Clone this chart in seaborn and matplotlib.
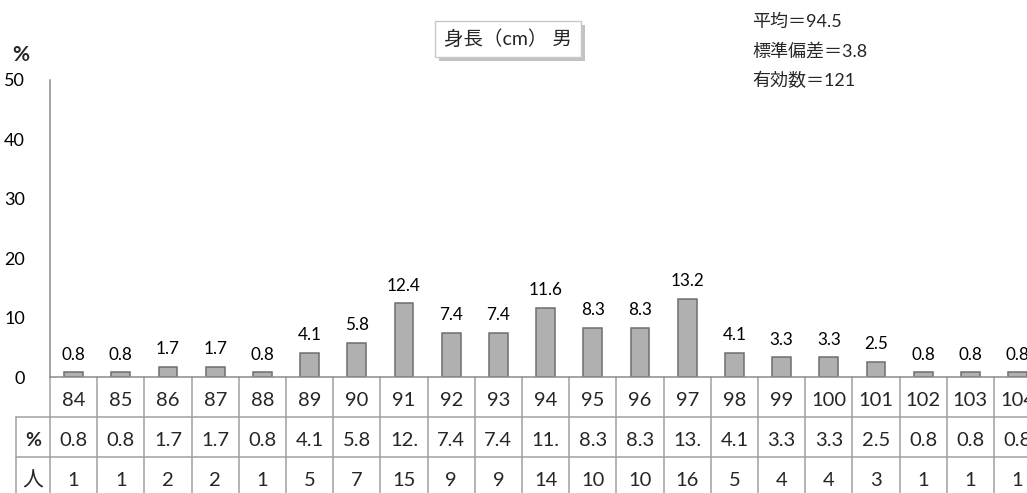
import matplotlib
matplotlib.use("Agg")
import matplotlib.pyplot as plt
import matplotlib.patheffects as pe
import seaborn as sns
import pandas as pd

# Height distribution (cm) of boys
heights = [84, 85, 86, 87, 88, 89, 90, 91, 92, 93, 94, 95, 96, 97, 98, 99, 100, 101, 102, 103, 104]
percent = [0.8, 0.8, 1.7, 1.7, 0.8, 4.1, 5.8, 12.4, 7.4, 7.4, 11.6, 8.3, 8.3, 13.2, 4.1,
           3.3, 3.3, 2.5, 0.8, 0.8, 0.8]
counts = [1, 1, 2, 2, 1, 5, 7, 15, 9, 9, 14, 10, 10, 16, 5, 4, 4, 3, 1, 1, 1]
y_ticks = [0, 10, 20, 30, 40, 50]
title = "身長（cm） 男"
stats_lines = ["平均＝94.5", "標準偏差＝3.8", "有効数＝121"]

sns.set_style("white")
plt.rcParams["font.family"] = ["Lato", "Noto Sans CJK JP", "DejaVu Sans"]

df = pd.DataFrame({"height": [str(h) for h in heights], "percent": percent})

W, H = 1027, 493
fig = plt.figure(figsize=(W / 100, H / 100), dpi=100)
# axes: left edge x=50px, zero line y=377px, top y=80px; right edge runs past the figure
ax = fig.add_axes([50 / W, (H - 377) / H, 991.2 / W, 297 / H])

grid_c = "#a0a0a0"
sns.barplot(data=df, x="height", y="percent", color="#b0b0b0", width=0.4,
            edgecolor="#6e6e6e", linewidth=1.1, saturation=1, ax=ax)
ax.bar_label(ax.containers[0], fmt="%.1f", padding=7, fontsize=12.3, color="#000000")

ax.set_ylim(0, 50)
ax.set_xlim(-0.5, len(heights) - 0.5)
ax.set_yticks(y_ticks)
ax.tick_params(axis="y", length=5, width=1, color="#8c8c8c", pad=13, labelsize=13,
               labelcolor="#000000")
ax.tick_params(axis="x", bottom=False, labelbottom=False)
ax.set_xlabel("")
ax.set_ylabel("")
for s in ["top", "right"]:
    ax.spines[s].set_visible(False)
for s in ["left", "bottom"]:
    ax.spines[s].set_color("#8c8c8c")
    ax.spines[s].set_linewidth(1.1)

# unit label above the y axis
fig.text(21 / W, 1 - 55 / H, "%", fontsize=15, fontweight="bold", ha="center", va="center")

# data table under the bars
tr = ax.get_xaxis_transform()
row_h = 40 / 297
n = len(heights)
head_x = -0.5 - 34 / 47.2
y_bottom = -0.45
for i in range(n + 1):
    ax.plot([i - 0.5, i - 0.5], [0, y_bottom], transform=tr, color=grid_c, lw=1.1,
            clip_on=False)
ax.plot([head_x, head_x], [-row_h, y_bottom], transform=tr, color=grid_c, lw=1.1, clip_on=False)
for k in (1, 2):
    ax.plot([head_x, n - 0.5], [-k * row_h, -k * row_h], transform=tr, color=grid_c, lw=1.1,
            clip_on=False)

row_y = [-0.6 * row_h, -1.6 * row_h, -2.6 * row_h]
for i, (h, p, c) in enumerate(zip(heights, percent, counts)):
    ax.text(i, row_y[0], str(h), transform=tr, ha="center", va="center", fontsize=14.5)
    # narrow cells only show the first three characters
    ax.text(i, row_y[1], f"{p:.1f}"[:3], transform=tr, ha="center", va="center", fontsize=14.5)
    ax.text(i, row_y[2], str(c), transform=tr, ha="center", va="center", fontsize=14.5)
hx = (head_x - 0.5) / 2
ax.text(hx, row_y[1], "%", transform=tr, ha="center", va="center", fontsize=14, fontweight="bold")
ax.text(hx, row_y[2], "人", transform=tr, ha="center", va="center", fontsize=15)

# boxed title with drop shadow
t = fig.text(508 / W, 1 - 39 / H, title, fontsize=14, ha="center", va="center",
             bbox=dict(boxstyle="square,pad=0.45", fc="white", ec="#c8c8c8", lw=1))
t.get_bbox_patch().set_path_effects([
    pe.SimplePatchShadow(offset=(3, -3), shadow_rgbFace="#9a9a9a", alpha=0.6),
    pe.Normal()])

# summary statistics
for j, line in enumerate(stats_lines):
    fig.text(752 / W, 1 - (22 + 29 * j) / H, line, fontsize=13, ha="left", va="center")

fig.savefig("out.png", dpi=100)
